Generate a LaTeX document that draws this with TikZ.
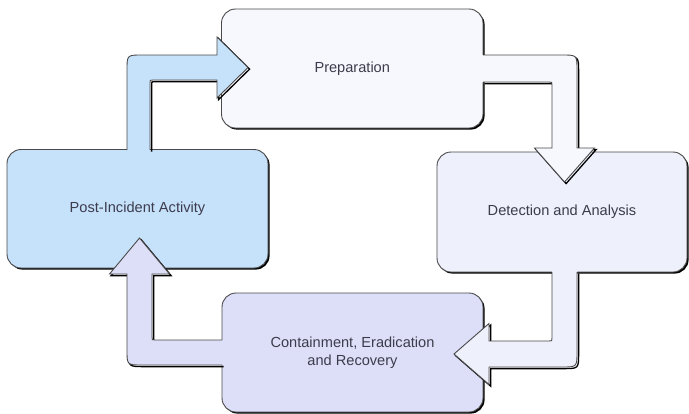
\documentclass[tikz,border=0pt]{standalone}
\usepackage{fontspec}
\setmainfont{Liberation Sans}
\usetikzlibrary{shadows}
\definecolor{prepcol}{HTML}{F7F8FE}
\definecolor{detcol}{HTML}{EEF0FB}
\definecolor{contcol}{HTML}{DCDFF7}
\definecolor{postcol}{HTML}{C6E1FA}
\definecolor{edgecol}{HTML}{4A4A4A}
\definecolor{txtcol}{HTML}{3C3C4C}
\tikzset{
  stagebox/.style={draw=edgecol, line width=0.9pt, rounded corners=14pt, inner sep=0pt,
    align=center, text=txtcol, font=\fontsize{14.6}{18}\selectfont,
    drop shadow={shadow xshift=1.6pt, shadow yshift=-1.6pt, fill=black, opacity=1}},
  arrowedge/.style={draw=edgecol, line width=0.9pt, line join=miter},
  arrowshadow/.style={draw=black, line width=1.3pt, line join=miter, shift={(1.6pt,-1.6pt)}},
}
\begin{document}
\begin{tikzpicture}[x=1pt,y=-1pt]
\useasboundingbox[fill=white] (0,0) rectangle (689,413);

% stages
\node[stagebox, fill=prepcol, minimum width=261.5pt, minimum height=119pt] (prep) at (352.25,68.5) {Preparation};
\node[stagebox, fill=detcol, minimum width=250pt, minimum height=120pt] (det) at (562,212) {Detection and Analysis};
\node[stagebox, fill=postcol, minimum width=261pt, minimum height=118.5pt] (post) at (137.5,208.75) {Post-Incident Activity};
\node[stagebox, fill=contcol, minimum width=261pt, minimum height=119pt] (cont) at (352.5,352.5) {Containment, Eradication\\and Recovery};

% arrow Post-Incident -> Preparation
\def\pathA{(127,55+15) .. controls (127,55) .. (142,55) -- (217,55) -- (217,37) -- (248,67.5) -- (217,98) -- (217,80) -- (153,80) .. controls (150,80) .. (150,83)}
\draw[arrowshadow] (127,150) -- \pathA -- (150,150);
\fill[postcol] (127,156) -- \pathA -- (150,156) -- cycle;
\draw[arrowedge] (127,150) -- \pathA -- (150,150);

% arrow Preparation -> Detection
\def\pathB{(549,82) .. controls (552,82) .. (552,85) -- (552,148) -- (534.5,148) -- (564.5,182) -- (594.5,148) -- (577,148) -- (577,70) .. controls (577,55) .. (562,55)}
\draw[arrowshadow] (483,82) -- \pathB -- (483,55);
\fill[prepcol] (477,82) -- \pathB -- (477,55) -- cycle;
\draw[arrowedge] (483,82) -- \pathB -- (483,55);

% arrow Detection -> Containment
\def\pathC{(552,338) .. controls (552,341) .. (549,341) -- (489,341) -- (489,323.5) -- (454,354) -- (489,384.5) -- (489,367) -- (562,367) .. controls (577,367) .. (577,352)}
\draw[arrowshadow] (552,272) -- \pathC -- (577,272);
\fill[detcol] (552,266) -- \pathC -- (577,266) -- cycle;
\draw[arrowedge] (552,272) -- \pathC -- (577,272);

% arrow Containment -> Post-Incident
\def\pathD{(155,340) .. controls (152,340) .. (152,337) -- (152,274) -- (169.5,274) -- (139.5,238) -- (109.5,274) -- (127,274) -- (127,350) .. controls (127,365) .. (142,365)}
\draw[arrowshadow] (222,340) -- \pathD -- (222,365);
\fill[contcol] (228,340) -- \pathD -- (228,365) -- cycle;
\draw[arrowedge] (222,340) -- \pathD -- (222,365);
\end{tikzpicture}
\end{document}
